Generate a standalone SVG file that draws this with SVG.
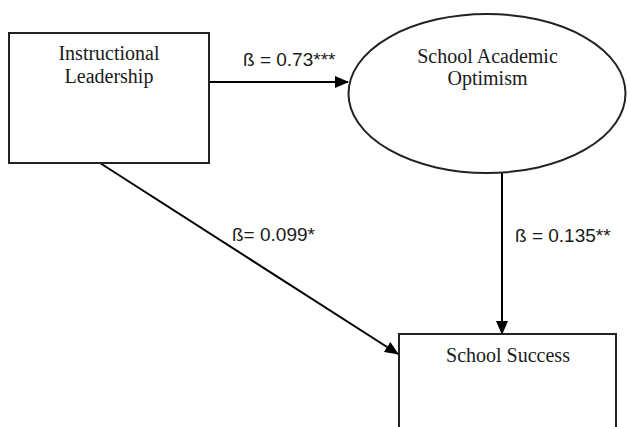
<svg xmlns="http://www.w3.org/2000/svg" width="628" height="427" viewBox="0 0 628 427">
  <style>
    .node { fill: #ffffff; stroke: #222222; stroke-width: 2; }
    .ntext { font-family: "Liberation Serif", "Times New Roman", serif; font-size: 20px; fill: #1a1a1a; text-anchor: middle; }
    .ltext { font-family: "Liberation Sans", Arial, sans-serif; font-size: 19px; fill: #1a1a1a; }
    .edge { stroke: #000000; stroke-width: 2; fill: none; marker-end: url(#arrow); }
  </style>
  <defs>
    <marker id="arrow" markerUnits="userSpaceOnUse" markerWidth="14" markerHeight="12" refX="13" refY="6" orient="auto">
      <path d="M0,0 L14,6 L0,12 Z" fill="#000000"/>
    </marker>
  </defs>
  <rect width="628" height="427" fill="#ffffff"/>
  <g id="connectors">
    <line class="edge" x1="209" y1="82" x2="348" y2="82"/>
    <line class="edge" x1="100" y1="163" x2="398" y2="354"/>
    <line class="edge" x1="502" y1="173" x2="502" y2="334"/>
  </g>
  <g id="instructional-leadership">
    <rect class="node" x="9" y="33" width="200" height="130"/>
    <text class="ntext" x="109" y="60">Instructional</text>
    <text class="ntext" x="109" y="83">Leadership</text>
  </g>
  <g id="school-academic-optimism">
    <ellipse class="node" cx="487" cy="93.5" rx="138.5" ry="79.5"/>
    <text class="ntext" x="487.5" y="63">School Academic</text>
    <text class="ntext" x="487.5" y="85">Optimism</text>
  </g>
  <g id="school-success">
    <rect class="node" x="399" y="334" width="217" height="110"/>
    <text class="ntext" x="508" y="362">School Success</text>
  </g>
  <g id="labels">
    <text class="ltext" x="243" y="66">ß = 0.73***</text>
    <text class="ltext" x="232" y="241">ß= 0.099*</text>
    <text class="ltext" x="515" y="242">ß = 0.135**</text>
  </g>
</svg>
